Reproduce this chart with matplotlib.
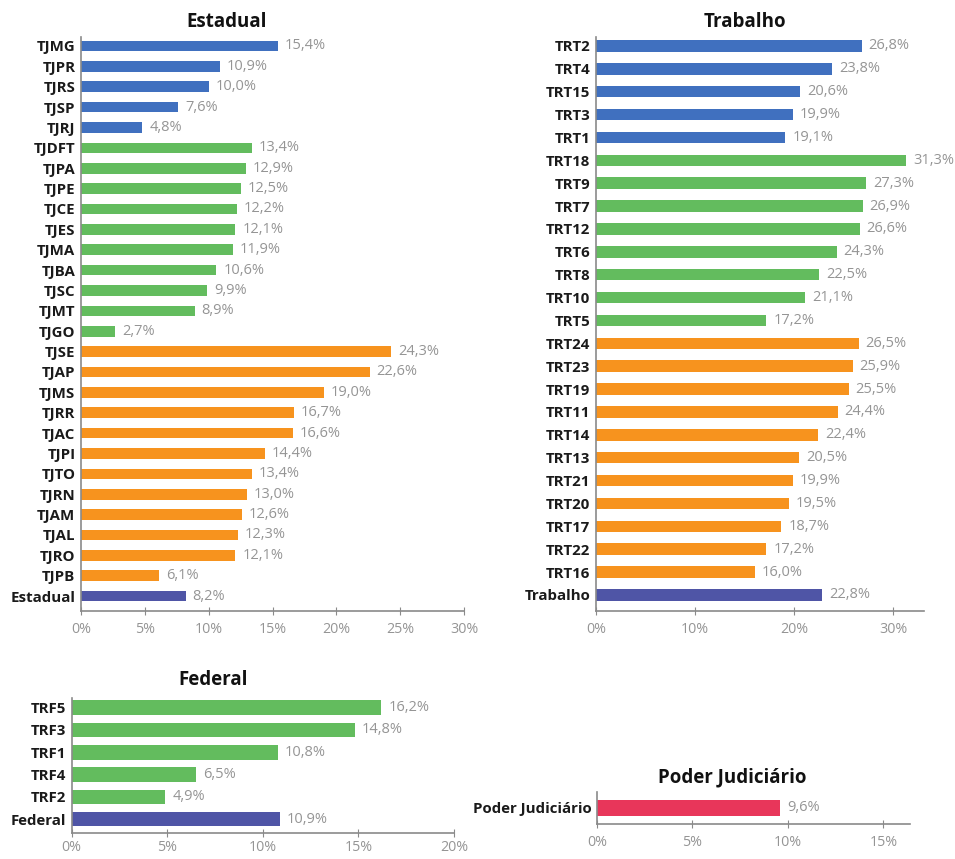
import matplotlib
matplotlib.use("Agg")
import matplotlib.pyplot as plt

# --- data -------------------------------------------------------------
est_labels = ["TJMG", "TJPR", "TJRS", "TJSP", "TJRJ",
              "TJDFT", "TJPA", "TJPE", "TJCE", "TJES", "TJMA", "TJBA", "TJSC", "TJMT", "TJGO",
              "TJSE", "TJAP", "TJMS", "TJRR", "TJAC", "TJPI", "TJTO", "TJRN", "TJAM", "TJAL", "TJRO", "TJPB",
              "Estadual"]
est_values = [15.4, 10.9, 10.0, 7.6, 4.8,
              13.4, 12.9, 12.5, 12.2, 12.1, 11.9, 10.6, 9.9, 8.9, 2.7,
              24.3, 22.6, 19.0, 16.7, 16.6, 14.4, 13.4, 13.0, 12.6, 12.3, 12.1, 6.1,
              8.2]
est_porte = ["G"] * 5 + ["M"] * 10 + ["P"] * 12 + ["T"]

trt_labels = ["TRT2", "TRT4", "TRT15", "TRT3", "TRT1",
              "TRT18", "TRT9", "TRT7", "TRT12", "TRT6", "TRT8", "TRT10", "TRT5",
              "TRT24", "TRT23", "TRT19", "TRT11", "TRT14", "TRT13", "TRT21", "TRT20", "TRT17", "TRT22", "TRT16",
              "Trabalho"]
trt_values = [26.8, 23.8, 20.6, 19.9, 19.1,
              31.3, 27.3, 26.9, 26.6, 24.3, 22.5, 21.1, 17.2,
              26.5, 25.9, 25.5, 24.4, 22.4, 20.5, 19.9, 19.5, 18.7, 17.2, 16.0,
              22.8]
trt_porte = ["G"] * 5 + ["M"] * 8 + ["P"] * 11 + ["T"]

trf_labels = ["TRF5", "TRF3", "TRF1", "TRF4", "TRF2", "Federal"]
trf_values = [16.2, 14.8, 10.8, 6.5, 4.9, 10.9]
trf_porte = ["M"] * 5 + ["T"]

pj_labels = ["Poder Judiciário"]
pj_values = [9.6]
pj_porte = ["PJ"]

colors = {"G": "#4070BF", "M": "#63BC5E", "P": "#F7931E", "T": "#4F55A6", "PJ": "#E8365A"}

plt.rcParams["font.family"] = ["Open Sans", "DejaVu Sans"]

fig = plt.figure(figsize=(9.55, 8.59), dpi=100)


def panel(rect, labels, values, porte, xlim, ticks, ylim, height, title, title_xy, pad=5):
    ax = fig.add_axes(rect)
    y = list(range(len(labels)))
    ax.barh(y, values, height=height, color=[colors[p] for p in porte])
    for yi, v in zip(y, values):
        ax.annotate(f"{v:.1f}%".replace(".", ","), (v, yi), xytext=(5, 0),
                    textcoords="offset points", va="center", ha="left",
                    fontsize=10.5, color="#959595")
    ax.set_yticks(y)
    ax.set_yticklabels(labels, fontsize=10.8, fontweight="bold", color="#1a1a1a")
    ax.set_xlim(*xlim)
    ax.set_ylim(*ylim)
    ax.set_xticks(ticks)
    ax.set_xticklabels([f"{t}%" for t in ticks], fontsize=10.3, color="#959595")
    ax.tick_params(axis="y", length=0, pad=4)
    ax.tick_params(axis="x", direction="inout", length=6, color="#8a8a8a", pad=pad)
    for s in ["top", "right"]:
        ax.spines[s].set_visible(False)
    for s in ["left", "bottom"]:
        ax.spines[s].set_color("#8a8a8a")
        ax.spines[s].set_linewidth(1.2)
    fig.text(title_xy[0], title_xy[1], title, ha="center", va="center",
             fontsize=13.5, fontweight="bold", color="#111111")
    return ax


panel([0.0848, 0.289, 0.4011, 0.6679], est_labels, est_values, est_porte,
      (0, 30), [0, 5, 10, 15, 20, 25, 30], (27.72, -0.44), 0.52,
      "Estadual", (227 / 955, 1 - 22 / 859))

panel([0.6241, 0.289, 0.3434, 0.6679], trt_labels, trt_values, trt_porte,
      (0, 33.1), [0, 10, 20, 30], (24.69, -0.39), 0.5,
      "Trabalho", (745 / 955, 1 - 22 / 859))

panel([0.0751, 0.0302, 0.4003, 0.1572], trf_labels, trf_values, trf_porte,
      (0, 20), [0, 5, 10, 15, 20], (5.62, -0.43), 0.65,
      "Federal", (213 / 955, 1 - 680 / 859), pad=2)

panel([0.6251, 0.0407, 0.3278, 0.0377], pj_labels, pj_values, pj_porte,
      (0, 16.4), [0, 5, 10, 15], (1, -1), 0.97,
      "Poder Judiciário", (732 / 955, 1 - 777 / 859))

fig.savefig("out.png", dpi=100)
